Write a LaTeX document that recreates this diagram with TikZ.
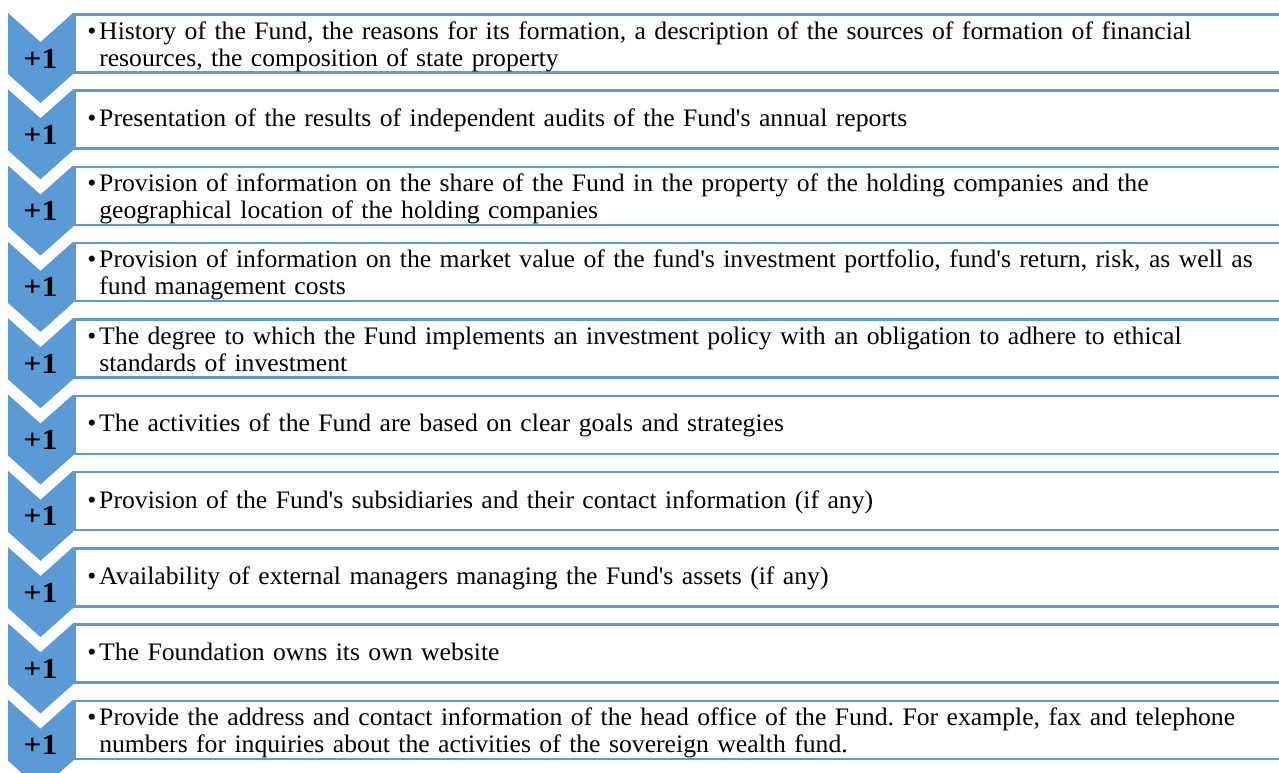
\documentclass[tikz,border=0pt]{standalone}
\usepackage{fontspec}
\setmainfont{Liberation Serif}
\newfontfamily\txtfont{Liberation Serif}[FakeStretch=1.02]
\newfontfamily\widefont{Liberation Serif}[FakeStretch=1.1]
\definecolor{myblue}{HTML}{5B9BD5}
\tikzset{
  chev/.style={fill=myblue, draw=none},
  itembox/.style={draw=myblue, line width=2.5pt, fill=white, anchor=north west,
    minimum height=58pt, text width=1250pt, align=left,
    inner xsep=25pt, inner ysep=0pt, font=\txtfont\fontsize{25.2}{27}\selectfont\frenchspacing},
  plus/.style={font=\widefont\fontsize{29}{30}\selectfont\bfseries, text=black, inner sep=0pt, anchor=base}
}
\newcommand\bul{\noindent\llap{\textbullet\hspace{3pt}}}
\newcommand\onestrut{\rule[-6pt]{0pt}{26pt}}
\newcommand\topstrut{\rule{0pt}{24pt}}
\newcommand\botstrut{\rule[-5pt]{0pt}{5pt}}
% #1 index, #2 top y, #3 text
\newcommand\rowitem[3]{%
  \path[chev] (8,#2) -- (40.5,#2+29) -- (73,#2) -- (73,#2+61) -- (40.5,#2+90) -- (8,#2+61) -- cycle;
  \node[plus] (p#1) at (40.5,#2+55) {+1};
  \node[itembox] (b#1) at (73,#2) {#3};
}
\newcommand\one[1]{\bul\onestrut #1}
\newcommand\two[2]{\bul\topstrut #1\\#2\botstrut}
\begin{document}
\begin{tikzpicture}[x=1pt,y=-1pt]
\useasboundingbox (0,0) rectangle (1279,772);
\clip (0,0) rectangle (1279,772);
\rowitem{1}{13}{\two{History of the Fund, the reasons for its formation, a description of the sources of formation of financial}{resources, the composition of state property}}
\rowitem{2}{89.3}{\one{Presentation of the results of independent audits of the Fund's annual reports}}
\rowitem{3}{165.6}{\two{Provision of information on the share of the Fund in the property of the holding companies and the}{geographical location of the holding companies}}
\rowitem{4}{241.9}{\two{Provision of information on the market value of the fund's investment portfolio, fund's return, risk, as well as}{fund management costs}}
\rowitem{5}{318.2}{\two{The degree to which the Fund implements an investment policy with an obligation to adhere to ethical}{standards of investment}}
\rowitem{6}{394.5}{\one{The activities of the Fund are based on clear goals and strategies}}
\rowitem{7}{470.8}{\one{Provision of the Fund's subsidiaries and their contact information (if any)}}
\rowitem{8}{547.1}{\one{Availability of external managers managing the Fund's assets (if any)}}
\rowitem{9}{623.4}{\one{The Foundation owns its own website}}
\rowitem{10}{699.7}{\two{Provide the address and contact information of the head office of the Fund. For example, fax and telephone}{numbers for inquiries about the activities of the sovereign wealth fund.}}
\end{tikzpicture}
\end{document}
